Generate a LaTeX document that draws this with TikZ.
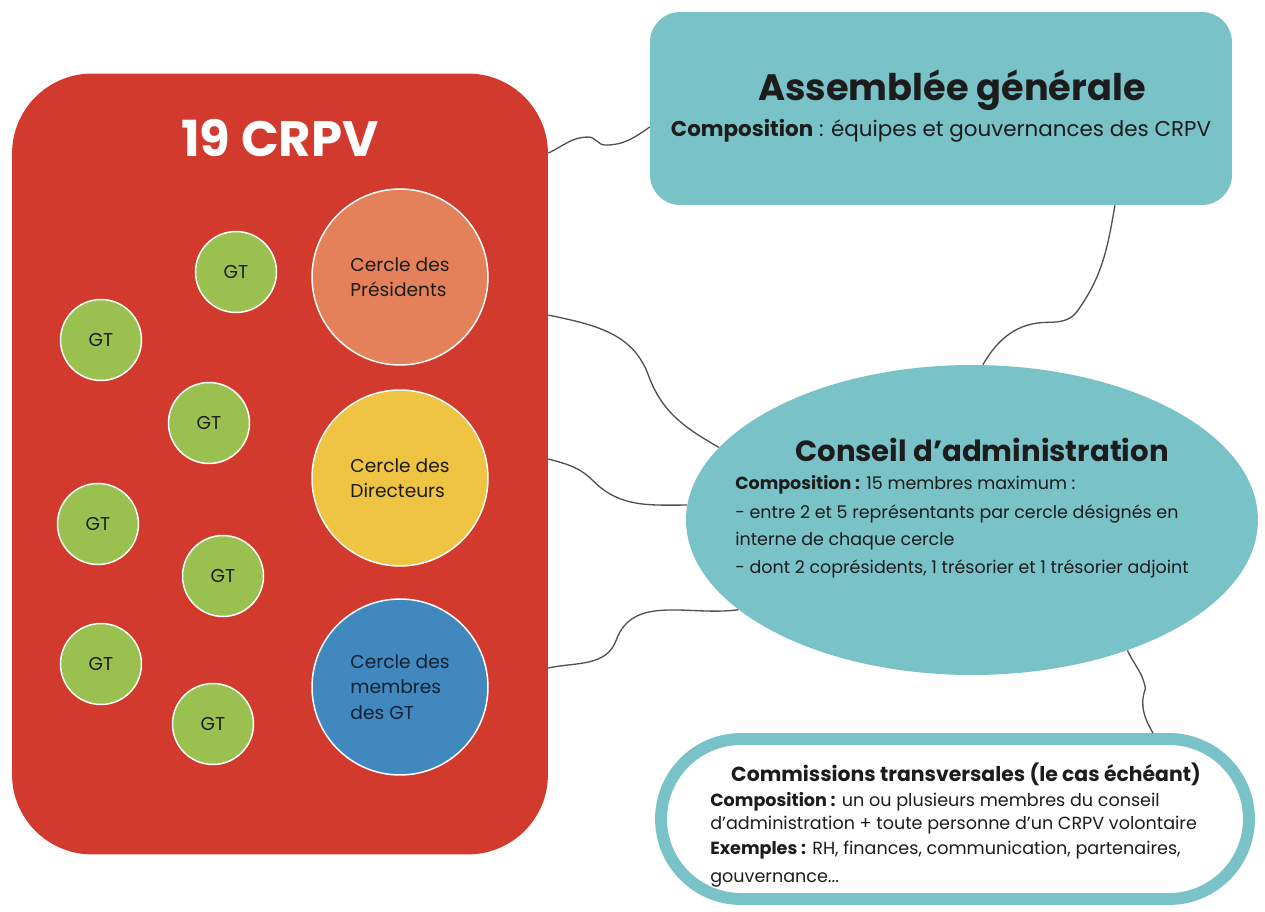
\documentclass[tikz,border=0pt]{standalone}
\usepackage{fontspec}
\setmainfont{Poppins}
\usetikzlibrary{shapes.geometric}
\definecolor{redbg}{RGB}{211,58,46}
\definecolor{tealbg}{RGB}{121,195,200}
\definecolor{gtgreen}{RGB}{154,192,80}
\definecolor{presor}{RGB}{229,129,90}
\definecolor{diryel}{RGB}{238,196,66}
\definecolor{gtblue}{RGB}{64,136,190}
\definecolor{inkc}{RGB}{28,28,28}
\definecolor{navyink}{RGB}{20,32,52}
\definecolor{wirec}{RGB}{80,80,80}
\tikzset{
  redbox/.style={fill=redbg, rounded corners=1.6cm, inner sep=0pt},
  bigcirc/.style={circle, draw=white, line width=0.85pt, minimum size=3.52cm, inner sep=0pt, align=left, text=inkc, font=\fontsize{10.6pt}{14.4pt}\selectfont},
  gtcirc/.style={circle, fill=gtgreen, draw=white, line width=0.85pt, minimum size=1.62cm, inner sep=0pt, text=inkc, font=\fontsize{10.6pt}{12pt}\selectfont},
  agbox/.style={fill=tealbg, rounded corners=0.6cm, inner sep=0pt},
  cdaell/.style={ellipse, fill=tealbg, inner sep=0pt, minimum width=11.44cm, minimum height=6.2cm},
  combox/.style={draw=tealbg, fill=white, line width=6.8pt, rounded corners=1.6cm, inner sep=0pt},
  conn/.style={draw=wirec, line width=0.75pt},
  bodyt/.style={anchor=base west, inner sep=0pt, text=inkc},
  titlet/.style={anchor=base, inner sep=0pt, text=inkc, font=\bfseries},
}
\begin{document}
\begin{tikzpicture}[x=0.02cm,y=-0.02cm]
\useasboundingbox (0,0) rectangle (1265,912);
\fill[white] (0,0) rectangle (1265,912);

% left red block
\node[redbox, minimum width=10.72cm, minimum height=15.62cm] (red) at (280,464) {};
\node[anchor=base, inner sep=0pt, text=white, font=\fontsize{28.3pt}{30pt}\selectfont\bfseries] (redtitle) at (280,157) {19 CRPV};

\node[bigcirc, fill=presor] (pres) at (400,277) {Cercle des\\Présidents};
\node[bigcirc, fill=diryel] (dir) at (400,478) {Cercle des\\Directeurs};
\node[bigcirc, fill=gtblue, text=navyink] (mem) at (400,687) {Cercle des\\membres\\des GT};

\node[gtcirc] (gt1) at (236,272) {GT};
\node[gtcirc] (gt2) at (101,340) {GT};
\node[gtcirc] (gt3) at (209,423) {GT};
\node[gtcirc] (gt4) at (98,524) {GT};
\node[gtcirc] (gt5) at (223,576) {GT};
\node[gtcirc] (gt6) at (101,664) {GT};
\node[gtcirc] (gt7) at (213,724) {GT};

% Assemblee generale
\node[agbox, minimum width=11.64cm, minimum height=3.86cm] (ag) at (941,108.5) {};
\node[titlet, font=\fontsize{20.9pt}{24pt}\selectfont\bfseries] (agtitle) at (952,101) {Assemblée générale};
\node[anchor=base, inner sep=0pt, text=inkc, font=\fontsize{12.2pt}{14pt}\selectfont] (agcomp) at (941,137) {\textbf{Composition} : équipes et gouvernances des CRPV};

% Conseil d'administration
\node[cdaell] (cda) at (972,520) {};
\node[titlet, font=\fontsize{16.6pt}{19pt}\selectfont\bfseries] (cdatitle) at (982,461) {Conseil d’administration};
\begin{scope}[every node/.style={bodyt, font=\fontsize{9.95pt}{12pt}\selectfont}]
\node (cdal1) at (735,489) {\textbf{Composition :} 15 membres maximum :};
\node (cdal2) at (735,518) {- entre 2 et 5 représentants par cercle désignés en};
\node (cdal3) at (735,545) {interne de chaque cercle};
\node (cdal4) at (735,573) {- dont 2 coprésidents, 1 trésorier et 1 trésorier adjoint};
\end{scope}

% Commissions transversales
\node[combox, minimum width=11.76cm, minimum height=3.2cm] (com) at (955,819) {};
\node[titlet, font=\fontsize{11.6pt}{14pt}\selectfont\bfseries] (comtitle) at (966,781) {Commissions transversales (le cas échéant)};
\begin{scope}[every node/.style={bodyt, font=\fontsize{10pt}{12pt}\selectfont}]
\node (coml1) at (710,806) {\textbf{Composition :} un ou plusieurs membres du conseil};
\node (coml2) at (710,829) {d’administration + toute personne d’un CRPV volontaire};
\node (coml3) at (710,854) {\textbf{Exemples :} RH, finances, communication, partenaires,};
\node (coml4) at (710,882) {gouvernance...};
\end{scope}

% connectors
\draw[conn] ([yshift=6.22cm]red.east) to[out=25,in=180] ++(40,-16) to[out=0,in=180] ++(17,8) to[out=0,in=215] ([yshift=-0.37cm]ag.west);
\draw[conn] ([xshift=3.48cm]ag.south) to[out=-100,in=55] ++(-37,105) to[out=235,in=0] ++(-30,12) to[out=180,in=60] (cda.86);
\draw[conn] ([yshift=2.98cm]red.east) to[out=-12,in=110] ++(100,60) to[out=-70,in=150] (cda.164);
\draw[conn] ([yshift=0.1cm]red.east) to[out=-15,in=135] ++(45,22) to[out=-45,in=180] (cda.177);
\draw[conn] ([yshift=-4.08cm]red.east) to[out=12,in=-110] ++(68,-28) to[out=70,in=188] (cda.201);
\draw[conn] (cda.-40) to[out=-65,in=100] ++(18,38) to[out=-110,in=120] ([xshift=3.96cm]com.north);
\end{tikzpicture}
\end{document}
